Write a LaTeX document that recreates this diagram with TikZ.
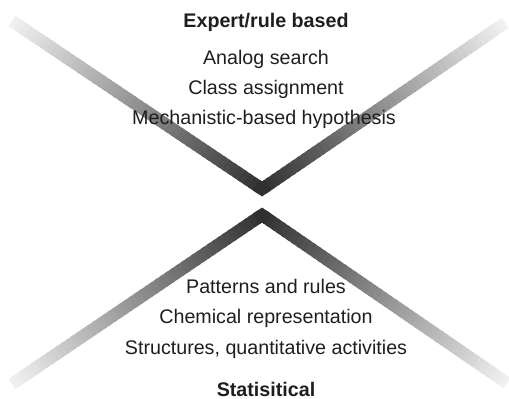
\documentclass[tikz,border=0pt]{standalone}
\usepackage{fontspec}
\setmainfont{Liberation Sans}
\usetikzlibrary{calc, positioning}
\definecolor{inkgray}{HTML}{1E1E1E}
\tikzset{
  ribbon/.style={line width=7pt},
  heading/.style={font=\fontsize{11.2}{13}\selectfont\bfseries, text=inkgray, anchor=base, inner sep=0pt},
  entry/.style={font=\fontsize{11.2}{13}\selectfont, text=inkgray, anchor=base, inner sep=0pt}
}
% one arm of a V, light at the free end, dark at the tip
\newcommand{\fadearm}[2]{%
  \foreach \i in {0,...,47}{%
    \pgfmathsetmacro{\ta}{\i/48}
    \pgfmathsetmacro{\tb}{min((\i+1.6)/48,1)}
    \pgfmathsetmacro{\tone}{6+76*\ta}
    \draw[ribbon, draw=black!\tone] ($(#1)!\ta!(#2)$) -- ($(#1)!\tb!(#2)$);
  }}

\begin{document}
\begin{tikzpicture}[x=0.02cm, y=-0.02cm]
        \useasboundingbox (0,0) rectangle (509,398);
        % ends and tips of the two V's
        \coordinate (tl) at (12,21);
        \coordinate (ta) at (262,189);
        \coordinate (tr) at (505,23);
        \coordinate (bl) at (12,384);
        \coordinate (ba) at (262,215);
        \coordinate (br) at (507,383);
        \fadearm{tl}{ta}
        \fadearm{tr}{ta}
        \fadearm{bl}{ba}
        \fadearm{br}{ba}
        \draw[ribbon, black!81, line join=miter] ($(ta)!0.025!(tl)$) -- (ta) -- ($(ta)!0.025!(tr)$);
        \draw[ribbon, black!81, line join=miter] ($(ba)!0.025!(bl)$) -- (ba) -- ($(ba)!0.025!(br)$);
        % top group
        \node[heading] (expert) at (266,28) {Expert/rule based};
        \node[entry] (analog) at (266,65) {Analog search};
        \node[entry] (class) at (266,95) {Class assignment};
        \node[entry] (mech) at (264,125) {Mechanistic-based hypothesis};
        % bottom group
        \node[entry] (patterns) at (266,293) {Patterns and rules};
        \node[entry] (chem) at (266,323) {Chemical representation};
        \node[entry] (struct) at (266,354) {Structures, quantitative activities};
        \node[heading] (stat) at (266,396) {Statisitical};
      \end{tikzpicture}
\end{document}
